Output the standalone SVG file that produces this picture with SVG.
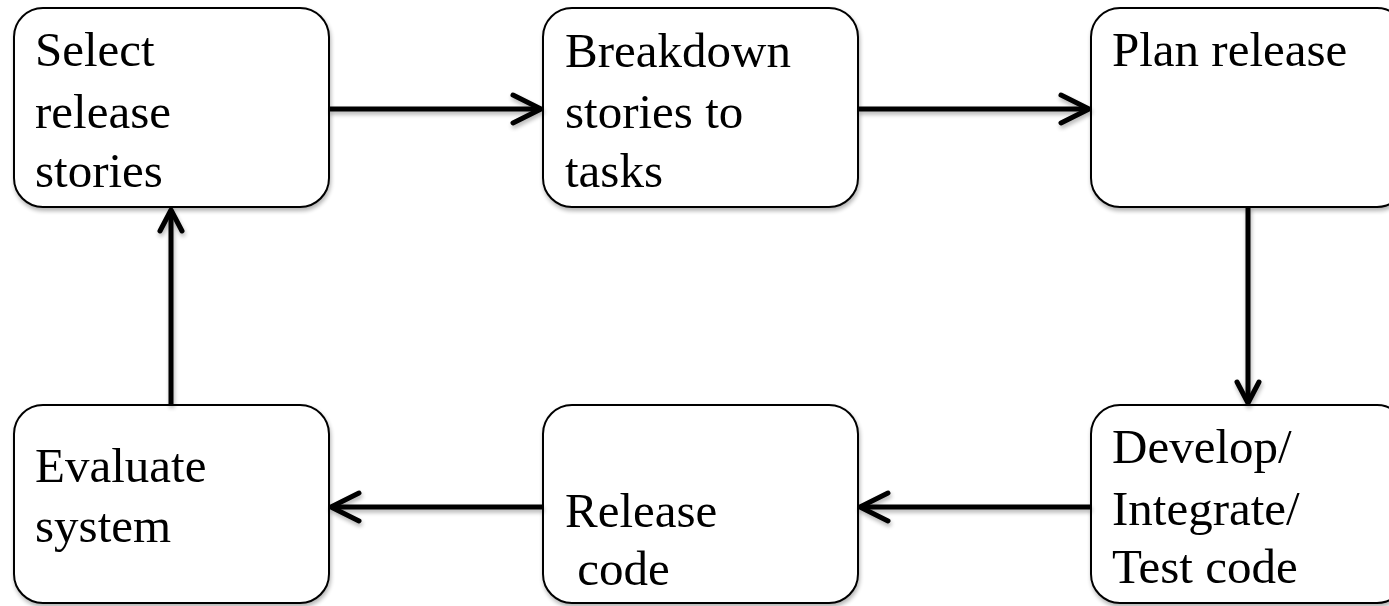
<svg xmlns="http://www.w3.org/2000/svg" width="1389" height="606" viewBox="0 0 1389 606">
  <style>
    .box { fill: #ffffff; stroke: #000000; stroke-width: 2; filter: url(#shadow); }
    .label { font-family: "Liberation Serif", "Times New Roman", serif; font-size: 49px; fill: #000000; }
    .conn { stroke: #000000; stroke-width: 5; fill: none; filter: url(#shadow); }
    .head { stroke: #000000; stroke-width: 5; fill: none; stroke-linecap: round; stroke-linejoin: round; }
  </style>
  <defs>
    <filter id="shadow" x="-10%" y="-10%" width="120%" height="120%">
      <feGaussianBlur in="SourceAlpha" stdDeviation="2"/>
      <feOffset dx="1" dy="3" result="blur"/>
      <feComponentTransfer><feFuncA type="linear" slope="0.3"/></feComponentTransfer>
      <feMerge><feMergeNode/><feMergeNode in="SourceGraphic"/></feMerge>
    </filter>
  </defs>
  <rect width="1389" height="606" fill="#ffffff"/>

  <!-- process steps -->
  <g id="select-release-stories">
    <rect class="box" x="14" y="8" width="315" height="199" rx="29" ry="29"/>
    <text class="label" x="35" y="66">Select</text>
    <text class="label" x="35" y="128">release</text>
    <text class="label" x="35" y="187">stories</text>
  </g>
  <g id="breakdown-stories">
    <rect class="box" x="543" y="8" width="315" height="199" rx="29" ry="29"/>
    <text class="label" x="565" y="67">Breakdown</text>
    <text class="label" x="565" y="128">stories to</text>
    <text class="label" x="565" y="187">tasks</text>
  </g>
  <g id="plan-release">
    <rect class="box" x="1091" y="8" width="315" height="199" rx="29" ry="29"/>
    <text class="label" x="1112" y="66">Plan release</text>
  </g>
  <g id="develop-integrate-test">
    <rect class="box" x="1091" y="405" width="315" height="198" rx="29" ry="29"/>
    <text class="label" x="1112" y="463">Develop/</text>
    <text class="label" x="1112" y="525">Integrate/</text>
    <text class="label" x="1112" y="583">Test code</text>
  </g>
  <g id="release-code">
    <rect class="box" x="543" y="405" width="315" height="198" rx="29" ry="29"/>
    <text class="label" x="565" y="527">Release</text>
    <text class="label" x="565" y="585" xml:space="preserve"> code</text>
  </g>
  <g id="evaluate-system">
    <rect class="box" x="14" y="405" width="315" height="198" rx="29" ry="29"/>
    <text class="label" x="35" y="482">Evaluate</text>
    <text class="label" x="35" y="542">system</text>
  </g>

  <!-- connectors -->
  <g id="connectors">
    <g class="conn">
      <line x1="329" y1="109" x2="541" y2="109"/>
      <path class="head" d="M513,95 L541,109 L513,123"/>
      <line x1="858" y1="109" x2="1089" y2="109"/>
      <path class="head" d="M1061,95 L1089,109 L1061,123"/>
      <line x1="1248" y1="207" x2="1248" y2="403"/>
      <path class="head" d="M1237,382 L1248,403 L1259,382"/>
      <line x1="1091" y1="507" x2="860" y2="507"/>
      <path class="head" d="M888,493 L860,507 L888,521"/>
      <line x1="543" y1="507" x2="331" y2="507"/>
      <path class="head" d="M359,493 L331,507 L359,521"/>
      <line x1="171" y1="405" x2="171" y2="210"/>
      <path class="head" d="M160,231 L171,210 L182,231"/>
    </g>
  </g>
</svg>
